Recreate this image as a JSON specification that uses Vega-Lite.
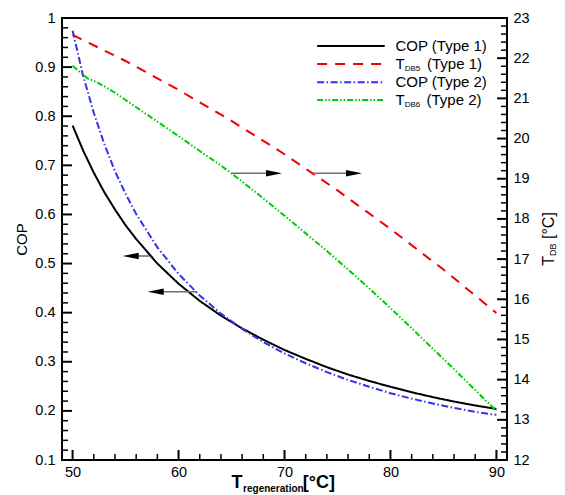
{
  "$schema": "https://vega.github.io/schema/vega-lite/v6.json",
  "width": 445,
  "height": 442,
  "autosize": {"type": "none"},
  "padding": {"left": 62, "top": 18, "right": 58, "bottom": 35},
  "config": {
    "font": "Liberation Sans",
    "view": {"stroke": "black", "strokeWidth": 2},
    "axis": {"grid": false, "domain": false, "labelColor": "black", "titleColor": "black", "tickSize": 0}
  },
  "datasets": {
    "cop": [
      {"T": 50, "v": 0.781, "s": "cop1"}, {"T": 51, "v": 0.730, "s": "cop1"}, {"T": 52, "v": 0.685, "s": "cop1"},
      {"T": 53, "v": 0.645, "s": "cop1"}, {"T": 54, "v": 0.610, "s": "cop1"}, {"T": 55, "v": 0.578, "s": "cop1"},
      {"T": 56, "v": 0.550, "s": "cop1"}, {"T": 58, "v": 0.500, "s": "cop1"}, {"T": 60, "v": 0.459, "s": "cop1"},
      {"T": 62, "v": 0.424, "s": "cop1"}, {"T": 64, "v": 0.394, "s": "cop1"}, {"T": 66, "v": 0.368, "s": "cop1"},
      {"T": 68, "v": 0.345, "s": "cop1"}, {"T": 70, "v": 0.324, "s": "cop1"}, {"T": 72, "v": 0.306, "s": "cop1"},
      {"T": 74, "v": 0.289, "s": "cop1"}, {"T": 76, "v": 0.274, "s": "cop1"}, {"T": 78, "v": 0.261, "s": "cop1"},
      {"T": 80, "v": 0.249, "s": "cop1"}, {"T": 82, "v": 0.238, "s": "cop1"}, {"T": 84, "v": 0.228, "s": "cop1"},
      {"T": 86, "v": 0.219, "s": "cop1"}, {"T": 88, "v": 0.211, "s": "cop1"}, {"T": 90, "v": 0.204, "s": "cop1"},
      {"T": 50, "v": 0.974, "s": "cop2"}, {"T": 51, "v": 0.882, "s": "cop2"}, {"T": 52, "v": 0.807, "s": "cop2"},
      {"T": 53, "v": 0.743, "s": "cop2"}, {"T": 54, "v": 0.688, "s": "cop2"}, {"T": 55, "v": 0.642, "s": "cop2"},
      {"T": 56, "v": 0.601, "s": "cop2"}, {"T": 58, "v": 0.533, "s": "cop2"}, {"T": 60, "v": 0.479, "s": "cop2"},
      {"T": 62, "v": 0.435, "s": "cop2"}, {"T": 64, "v": 0.398, "s": "cop2"}, {"T": 66, "v": 0.367, "s": "cop2"},
      {"T": 68, "v": 0.340, "s": "cop2"}, {"T": 70, "v": 0.317, "s": "cop2"}, {"T": 72, "v": 0.297, "s": "cop2"},
      {"T": 74, "v": 0.279, "s": "cop2"}, {"T": 76, "v": 0.263, "s": "cop2"}, {"T": 78, "v": 0.249, "s": "cop2"},
      {"T": 80, "v": 0.236, "s": "cop2"}, {"T": 82, "v": 0.225, "s": "cop2"}, {"T": 84, "v": 0.215, "s": "cop2"},
      {"T": 86, "v": 0.206, "s": "cop2"}, {"T": 88, "v": 0.198, "s": "cop2"}, {"T": 90, "v": 0.192, "s": "cop2"}
    ],
    "tdb": [
      {"T": 50, "v": 22.58, "s": "t5"}, {"T": 55, "v": 21.93, "s": "t5"}, {"T": 60, "v": 21.21, "s": "t5"},
      {"T": 65, "v": 20.44, "s": "t5"}, {"T": 70, "v": 19.61, "s": "t5"}, {"T": 75, "v": 18.71, "s": "t5"},
      {"T": 80, "v": 17.75, "s": "t5"}, {"T": 85, "v": 16.74, "s": "t5"}, {"T": 90, "v": 15.66, "s": "t5"},
      {"T": 50, "v": 21.81, "s": "t6"}, {"T": 51, "v": 21.59, "s": "t6"}, {"T": 51.5, "v": 21.48, "s": "t6"},
      {"T": 52, "v": 21.44, "s": "t6"}, {"T": 53, "v": 21.30, "s": "t6"}, {"T": 54, "v": 21.14, "s": "t6"},
      {"T": 55, "v": 20.96, "s": "t6"}, {"T": 56, "v": 20.78, "s": "t6"}, {"T": 58, "v": 20.42, "s": "t6"},
      {"T": 60, "v": 20.06, "s": "t6"}, {"T": 62, "v": 19.69, "s": "t6"}, {"T": 64, "v": 19.33, "s": "t6"},
      {"T": 66, "v": 18.93, "s": "t6"}, {"T": 68, "v": 18.51, "s": "t6"}, {"T": 70, "v": 18.08, "s": "t6"},
      {"T": 72, "v": 17.64, "s": "t6"}, {"T": 74, "v": 17.20, "s": "t6"}, {"T": 76, "v": 16.74, "s": "t6"},
      {"T": 78, "v": 16.27, "s": "t6"}, {"T": 80, "v": 15.78, "s": "t6"}, {"T": 82, "v": 15.28, "s": "t6"},
      {"T": 84, "v": 14.77, "s": "t6"}, {"T": 86, "v": 14.26, "s": "t6"}, {"T": 88, "v": 13.74, "s": "t6"},
      {"T": 90, "v": 13.22, "s": "t6"}
    ],
    "tMajL": [{"v": 0.1}, {"v": 0.2}, {"v": 0.3}, {"v": 0.4}, {"v": 0.5}, {"v": 0.6}, {"v": 0.7}, {"v": 0.8}, {"v": 0.9}, {"v": 1}],
    "tMinL": [{"v": 0.12}, {"v": 0.14}, {"v": 0.16}, {"v": 0.18}, {"v": 0.22}, {"v": 0.24}, {"v": 0.26}, {"v": 0.28}, {"v": 0.32}, {"v": 0.34}, {"v": 0.36}, {"v": 0.38}, {"v": 0.42}, {"v": 0.44}, {"v": 0.46}, {"v": 0.48}, {"v": 0.52}, {"v": 0.54}, {"v": 0.56}, {"v": 0.58}, {"v": 0.62}, {"v": 0.64}, {"v": 0.66}, {"v": 0.68}, {"v": 0.72}, {"v": 0.74}, {"v": 0.76}, {"v": 0.78}, {"v": 0.82}, {"v": 0.84}, {"v": 0.86}, {"v": 0.88}, {"v": 0.92}, {"v": 0.94}, {"v": 0.96}, {"v": 0.98}],
    "tMajB": [{"v": 50}, {"v": 60}, {"v": 70}, {"v": 80}, {"v": 90}],
    "tMinB": [{"v": 52}, {"v": 54}, {"v": 56}, {"v": 58}, {"v": 62}, {"v": 64}, {"v": 66}, {"v": 68}, {"v": 72}, {"v": 74}, {"v": 76}, {"v": 78}, {"v": 82}, {"v": 84}, {"v": 86}, {"v": 88}],
    "tMajR": [{"v": 12}, {"v": 13}, {"v": 14}, {"v": 15}, {"v": 16}, {"v": 17}, {"v": 18}, {"v": 19}, {"v": 20}, {"v": 21}, {"v": 22}, {"v": 23}],
    "tMinR": [{"v": 12.2}, {"v": 12.4}, {"v": 12.6}, {"v": 12.8}, {"v": 13.2}, {"v": 13.4}, {"v": 13.6}, {"v": 13.8}, {"v": 14.2}, {"v": 14.4}, {"v": 14.6}, {"v": 14.8}, {"v": 15.2}, {"v": 15.4}, {"v": 15.6}, {"v": 15.8}, {"v": 16.2}, {"v": 16.4}, {"v": 16.6}, {"v": 16.8}, {"v": 17.2}, {"v": 17.4}, {"v": 17.6}, {"v": 17.8}, {"v": 18.2}, {"v": 18.4}, {"v": 18.6}, {"v": 18.8}, {"v": 19.2}, {"v": 19.4}, {"v": 19.6}, {"v": 19.8}, {"v": 20.2}, {"v": 20.4}, {"v": 20.6}, {"v": 20.8}, {"v": 21.2}, {"v": 21.4}, {"v": 21.6}, {"v": 21.8}, {"v": 22.2}, {"v": 22.4}, {"v": 22.6}, {"v": 22.8}],
    "arrL": [
      {"x": 57.23, "x2": 55.48, "y": 0.5154},
      {"x": 61.70, "x2": 57.84, "y": 0.4427}
    ],
    "arrR": [
      {"x": 65.0, "x2": 69.01, "y": 19.135},
      {"x": 72.7, "x2": 76.56, "y": 19.135}
    ],
    "leg": [
      {"x": 73.08, "x2": 79.46, "y": 0.9430, "s": "cop1"},
      {"x": 73.08, "x2": 79.46, "y": 0.9063, "s": "t5"},
      {"x": 73.08, "x2": 79.46, "y": 0.8691, "s": "cop2"},
      {"x": 73.08, "x2": 79.46, "y": 0.8330, "s": "t6"}
    ],
    "legTxt": [
      {"x": 80.47, "y": 0.9430, "label": "COP (Type 1)"},
      {"x": 80.47, "y": 0.9063, "label": "T"},
      {"x": 83.45, "y": 0.9063, "label": "(Type 1)"},
      {"x": 80.47, "y": 0.8691, "label": "COP (Type 2)"},
      {"x": 80.47, "y": 0.8330, "label": "T"},
      {"x": 83.40, "y": 0.8330, "label": "(Type 2)"}
    ],
    "legSub": [
      {"x": 81.35, "y": 0.8962, "label": "DB5"},
      {"x": 81.35, "y": 0.8229, "label": "DB6"}
    ],
    "xTitle": [
      {"x": 65.0, "y": 0.0430, "label": "T"},
      {"x": 71.73, "y": 0.0430, "label": "[°C]"}
    ],
    "xSub": [
      {"x": 66.09, "y": 0.0348, "label": "regeneration"}
    ],
    "rTitle": [
      {"x": 95.41, "y": 0.4956, "label": "T"},
      {"x": 95.41, "y": 0.5500, "label": "[°C]"}
    ],
    "rSub": [
      {"x": 95.64, "y": 0.5155, "label": "DB"}
    ]
  },
  "resolve": {"scale": {"y": "independent"}, "axis": {"x": "independent", "y": "independent"}},
  "layer": [
    {
      "data": {"name": "cop"},
      "mark": {"type": "line", "strokeWidth": 2},
      "encoding": {
        "x": {"field": "T", "type": "quantitative", "scale": {"domain": [49, 91], "nice": false, "zero": false},
          "axis": {"orient": "bottom", "values": [50, 60, 70, 80, 90], "labelPadding": 5, "labelFontSize": 14.5, "labelFlush": false, "title": null}},
        "y": {"field": "v", "type": "quantitative", "scale": {"domain": [0.1, 1], "nice": false, "zero": false},
          "axis": {"orient": "left", "values": [0.1, 0.2, 0.3, 0.4, 0.5, 0.6, 0.7, 0.8, 0.9, 1], "format": "~g", "labelPadding": 7, "labelFontSize": 14.5, "labelFlush": false, "title": "COP", "titleFontSize": 15, "titleFontWeight": "normal", "titlePadding": 5}},
        "color": {"field": "s", "type": "nominal", "scale": {"domain": ["cop1", "t5", "cop2", "t6"], "range": ["#000000", "#ee0000", "#3333ee", "#00cc00"]}, "legend": null},
        "strokeDash": {"field": "s", "type": "nominal", "scale": {"domain": ["cop1", "t5", "cop2", "t6"], "range": [[1, 0], [10, 8], [7, 2.5, 1.5, 2.5], [6, 2, 1.5, 2, 1.5, 2]]}, "legend": null}
      }
    },
    {
      "data": {"name": "tdb"},
      "mark": {"type": "line", "strokeWidth": 2},
      "encoding": {
        "x": {"field": "T", "type": "quantitative", "scale": {"domain": [49, 91], "nice": false, "zero": false}, "axis": null},
        "y": {"field": "v", "type": "quantitative", "scale": {"domain": [12, 23], "nice": false, "zero": false},
          "axis": {"orient": "right", "values": [12, 13, 14, 15, 16, 17, 18, 19, 20, 21, 22, 23], "labelPadding": 6, "labelFontSize": 14.5, "labelFlush": false, "title": null}},
        "color": {"field": "s", "type": "nominal", "scale": {"domain": ["cop1", "t5", "cop2", "t6"], "range": ["#000000", "#ee0000", "#3333ee", "#00cc00"]}, "legend": null},
        "strokeDash": {"field": "s", "type": "nominal", "scale": {"domain": ["cop1", "t5", "cop2", "t6"], "range": [[1, 0], [10, 8], [7, 2.5, 1.5, 2.5], [6, 2, 1.5, 2, 1.5, 2]]}, "legend": null}
      }
    },
    {
      "data": {"name": "tMajL"},
      "mark": {"type": "rule", "color": "black", "strokeWidth": 2},
      "encoding": {
        "x": {"datum": 49, "type": "quantitative", "scale": {"domain": [49, 91], "nice": false, "zero": false}, "axis": null},
        "x2": {"datum": 49.94},
        "y": {"field": "v", "type": "quantitative", "scale": {"domain": [0.1, 1], "nice": false, "zero": false}, "axis": null}
      }
    },
    {
      "data": {"name": "tMinL"},
      "mark": {"type": "rule", "color": "black", "strokeWidth": 1.5},
      "encoding": {
        "x": {"datum": 49, "type": "quantitative", "scale": {"domain": [49, 91], "nice": false, "zero": false}, "axis": null},
        "x2": {"datum": 49.57},
        "y": {"field": "v", "type": "quantitative", "scale": {"domain": [0.1, 1], "nice": false, "zero": false}, "axis": null}
      }
    },
    {
      "data": {"name": "tMajB"},
      "mark": {"type": "rule", "color": "black", "strokeWidth": 2},
      "encoding": {
        "x": {"field": "v", "type": "quantitative", "scale": {"domain": [49, 91], "nice": false, "zero": false}, "axis": null},
        "y": {"datum": 0.1, "type": "quantitative", "scale": {"domain": [0.1, 1], "nice": false, "zero": false}, "axis": null},
        "y2": {"datum": 0.1204}
      }
    },
    {
      "data": {"name": "tMinB"},
      "mark": {"type": "rule", "color": "black", "strokeWidth": 1.5},
      "encoding": {
        "x": {"field": "v", "type": "quantitative", "scale": {"domain": [49, 91], "nice": false, "zero": false}, "axis": null},
        "y": {"datum": 0.1, "type": "quantitative", "scale": {"domain": [0.1, 1], "nice": false, "zero": false}, "axis": null},
        "y2": {"datum": 0.1122}
      }
    },
    {
      "data": {"name": "tMajR"},
      "mark": {"type": "rule", "color": "black", "strokeWidth": 2},
      "encoding": {
        "x": {"datum": 90.06, "type": "quantitative", "scale": {"domain": [49, 91], "nice": false, "zero": false}, "axis": null},
        "x2": {"datum": 91},
        "y": {"field": "v", "type": "quantitative", "scale": {"domain": [12, 23], "nice": false, "zero": false}, "axis": null}
      }
    },
    {
      "data": {"name": "tMinR"},
      "mark": {"type": "rule", "color": "black", "strokeWidth": 1.5},
      "encoding": {
        "x": {"datum": 90.43, "type": "quantitative", "scale": {"domain": [49, 91], "nice": false, "zero": false}, "axis": null},
        "x2": {"datum": 91},
        "y": {"field": "v", "type": "quantitative", "scale": {"domain": [12, 23], "nice": false, "zero": false}, "axis": null}
      }
    },
    {
      "data": {"name": "arrL"},
      "mark": {"type": "rule", "color": "#707070", "strokeWidth": 1.6},
      "encoding": {
        "x": {"field": "x", "type": "quantitative", "scale": {"domain": [49, 91], "nice": false, "zero": false}, "axis": null},
        "x2": {"field": "x2"},
        "y": {"field": "y", "type": "quantitative", "scale": {"domain": [0.1, 1], "nice": false, "zero": false}, "axis": null}
      }
    },
    {
      "data": {"name": "arrR"},
      "mark": {"type": "rule", "color": "#707070", "strokeWidth": 1.6},
      "encoding": {
        "x": {"field": "x", "type": "quantitative", "scale": {"domain": [49, 91], "nice": false, "zero": false}, "axis": null},
        "x2": {"field": "x2"},
        "y": {"field": "y", "type": "quantitative", "scale": {"domain": [12, 23], "nice": false, "zero": false}, "axis": null}
      }
    },
    {
      "data": {"name": "arrL"},
      "mark": {"type": "point", "shape": "M-1,0L1,-0.4L1,0.4Z", "filled": true, "color": "black", "opacity": 1, "size": 256, "strokeWidth": 0},
      "encoding": {
        "x": {"field": "x2", "type": "quantitative", "scale": {"domain": [49, 91], "nice": false, "zero": false}, "axis": null},
        "y": {"field": "y", "type": "quantitative", "scale": {"domain": [0.1, 1], "nice": false, "zero": false}, "axis": null}
      }
    },
    {
      "data": {"name": "arrR"},
      "mark": {"type": "point", "shape": "M1,0L-1,-0.4L-1,0.4Z", "filled": true, "color": "black", "opacity": 1, "size": 256, "strokeWidth": 0},
      "encoding": {
        "x": {"field": "x2", "type": "quantitative", "scale": {"domain": [49, 91], "nice": false, "zero": false}, "axis": null},
        "y": {"field": "y", "type": "quantitative", "scale": {"domain": [12, 23], "nice": false, "zero": false}, "axis": null}
      }
    },
    {
      "data": {"name": "leg"},
      "mark": {"type": "rule", "strokeWidth": 2},
      "encoding": {
        "x": {"field": "x", "type": "quantitative", "scale": {"domain": [49, 91], "nice": false, "zero": false}, "axis": null},
        "x2": {"field": "x2"},
        "y": {"field": "y", "type": "quantitative", "scale": {"domain": [0.1, 1], "nice": false, "zero": false}, "axis": null},
        "color": {"field": "s", "type": "nominal", "scale": {"domain": ["cop1", "t5", "cop2", "t6"], "range": ["#000000", "#ee0000", "#3333ee", "#00cc00"]}, "legend": null},
        "strokeDash": {"field": "s", "type": "nominal", "scale": {"domain": ["cop1", "t5", "cop2", "t6"], "range": [[1, 0], [10, 8], [7, 2.5, 1.5, 2.5], [6, 2, 1.5, 2, 1.5, 2]]}, "legend": null}
      }
    },
    {
      "data": {"name": "legTxt"},
      "mark": {"type": "text", "align": "left", "baseline": "middle", "fontSize": 15, "color": "black"},
      "encoding": {
        "x": {"field": "x", "type": "quantitative", "scale": {"domain": [49, 91], "nice": false, "zero": false}, "axis": null},
        "y": {"field": "y", "type": "quantitative", "scale": {"domain": [0.1, 1], "nice": false, "zero": false}, "axis": null},
        "text": {"field": "label"}
      }
    },
    {
      "data": {"name": "legSub"},
      "mark": {"type": "text", "align": "left", "baseline": "middle", "fontSize": 8, "color": "black"},
      "encoding": {
        "x": {"field": "x", "type": "quantitative", "scale": {"domain": [49, 91], "nice": false, "zero": false}, "axis": null},
        "y": {"field": "y", "type": "quantitative", "scale": {"domain": [0.1, 1], "nice": false, "zero": false}, "axis": null},
        "text": {"field": "label"}
      }
    },
    {
      "data": {"name": "xTitle"},
      "mark": {"type": "text", "align": "left", "baseline": "alphabetic", "fontSize": 18, "fontWeight": "bold", "color": "black"},
      "encoding": {
        "x": {"field": "x", "type": "quantitative", "scale": {"domain": [49, 91], "nice": false, "zero": false}, "axis": null},
        "y": {"field": "y", "type": "quantitative", "scale": {"domain": [0.1, 1], "nice": false, "zero": false}, "axis": null},
        "text": {"field": "label"}
      }
    },
    {
      "data": {"name": "xSub"},
      "mark": {"type": "text", "align": "left", "baseline": "alphabetic", "fontSize": 10, "fontWeight": "bold", "color": "black"},
      "encoding": {
        "x": {"field": "x", "type": "quantitative", "scale": {"domain": [49, 91], "nice": false, "zero": false}, "axis": null},
        "y": {"field": "y", "type": "quantitative", "scale": {"domain": [0.1, 1], "nice": false, "zero": false}, "axis": null},
        "text": {"field": "label"}
      }
    },
    {
      "data": {"name": "rTitle"},
      "mark": {"type": "text", "align": "left", "baseline": "alphabetic", "angle": 270, "fontSize": 16, "color": "black"},
      "encoding": {
        "x": {"field": "x", "type": "quantitative", "scale": {"domain": [49, 91], "nice": false, "zero": false}, "axis": null},
        "y": {"field": "y", "type": "quantitative", "scale": {"domain": [0.1, 1], "nice": false, "zero": false}, "axis": null},
        "text": {"field": "label"}
      }
    },
    {
      "data": {"name": "rSub"},
      "mark": {"type": "text", "align": "left", "baseline": "alphabetic", "angle": 270, "fontSize": 9, "color": "black"},
      "encoding": {
        "x": {"field": "x", "type": "quantitative", "scale": {"domain": [49, 91], "nice": false, "zero": false}, "axis": null},
        "y": {"field": "y", "type": "quantitative", "scale": {"domain": [0.1, 1], "nice": false, "zero": false}, "axis": null},
        "text": {"field": "label"}
      }
    }
  ]
}
